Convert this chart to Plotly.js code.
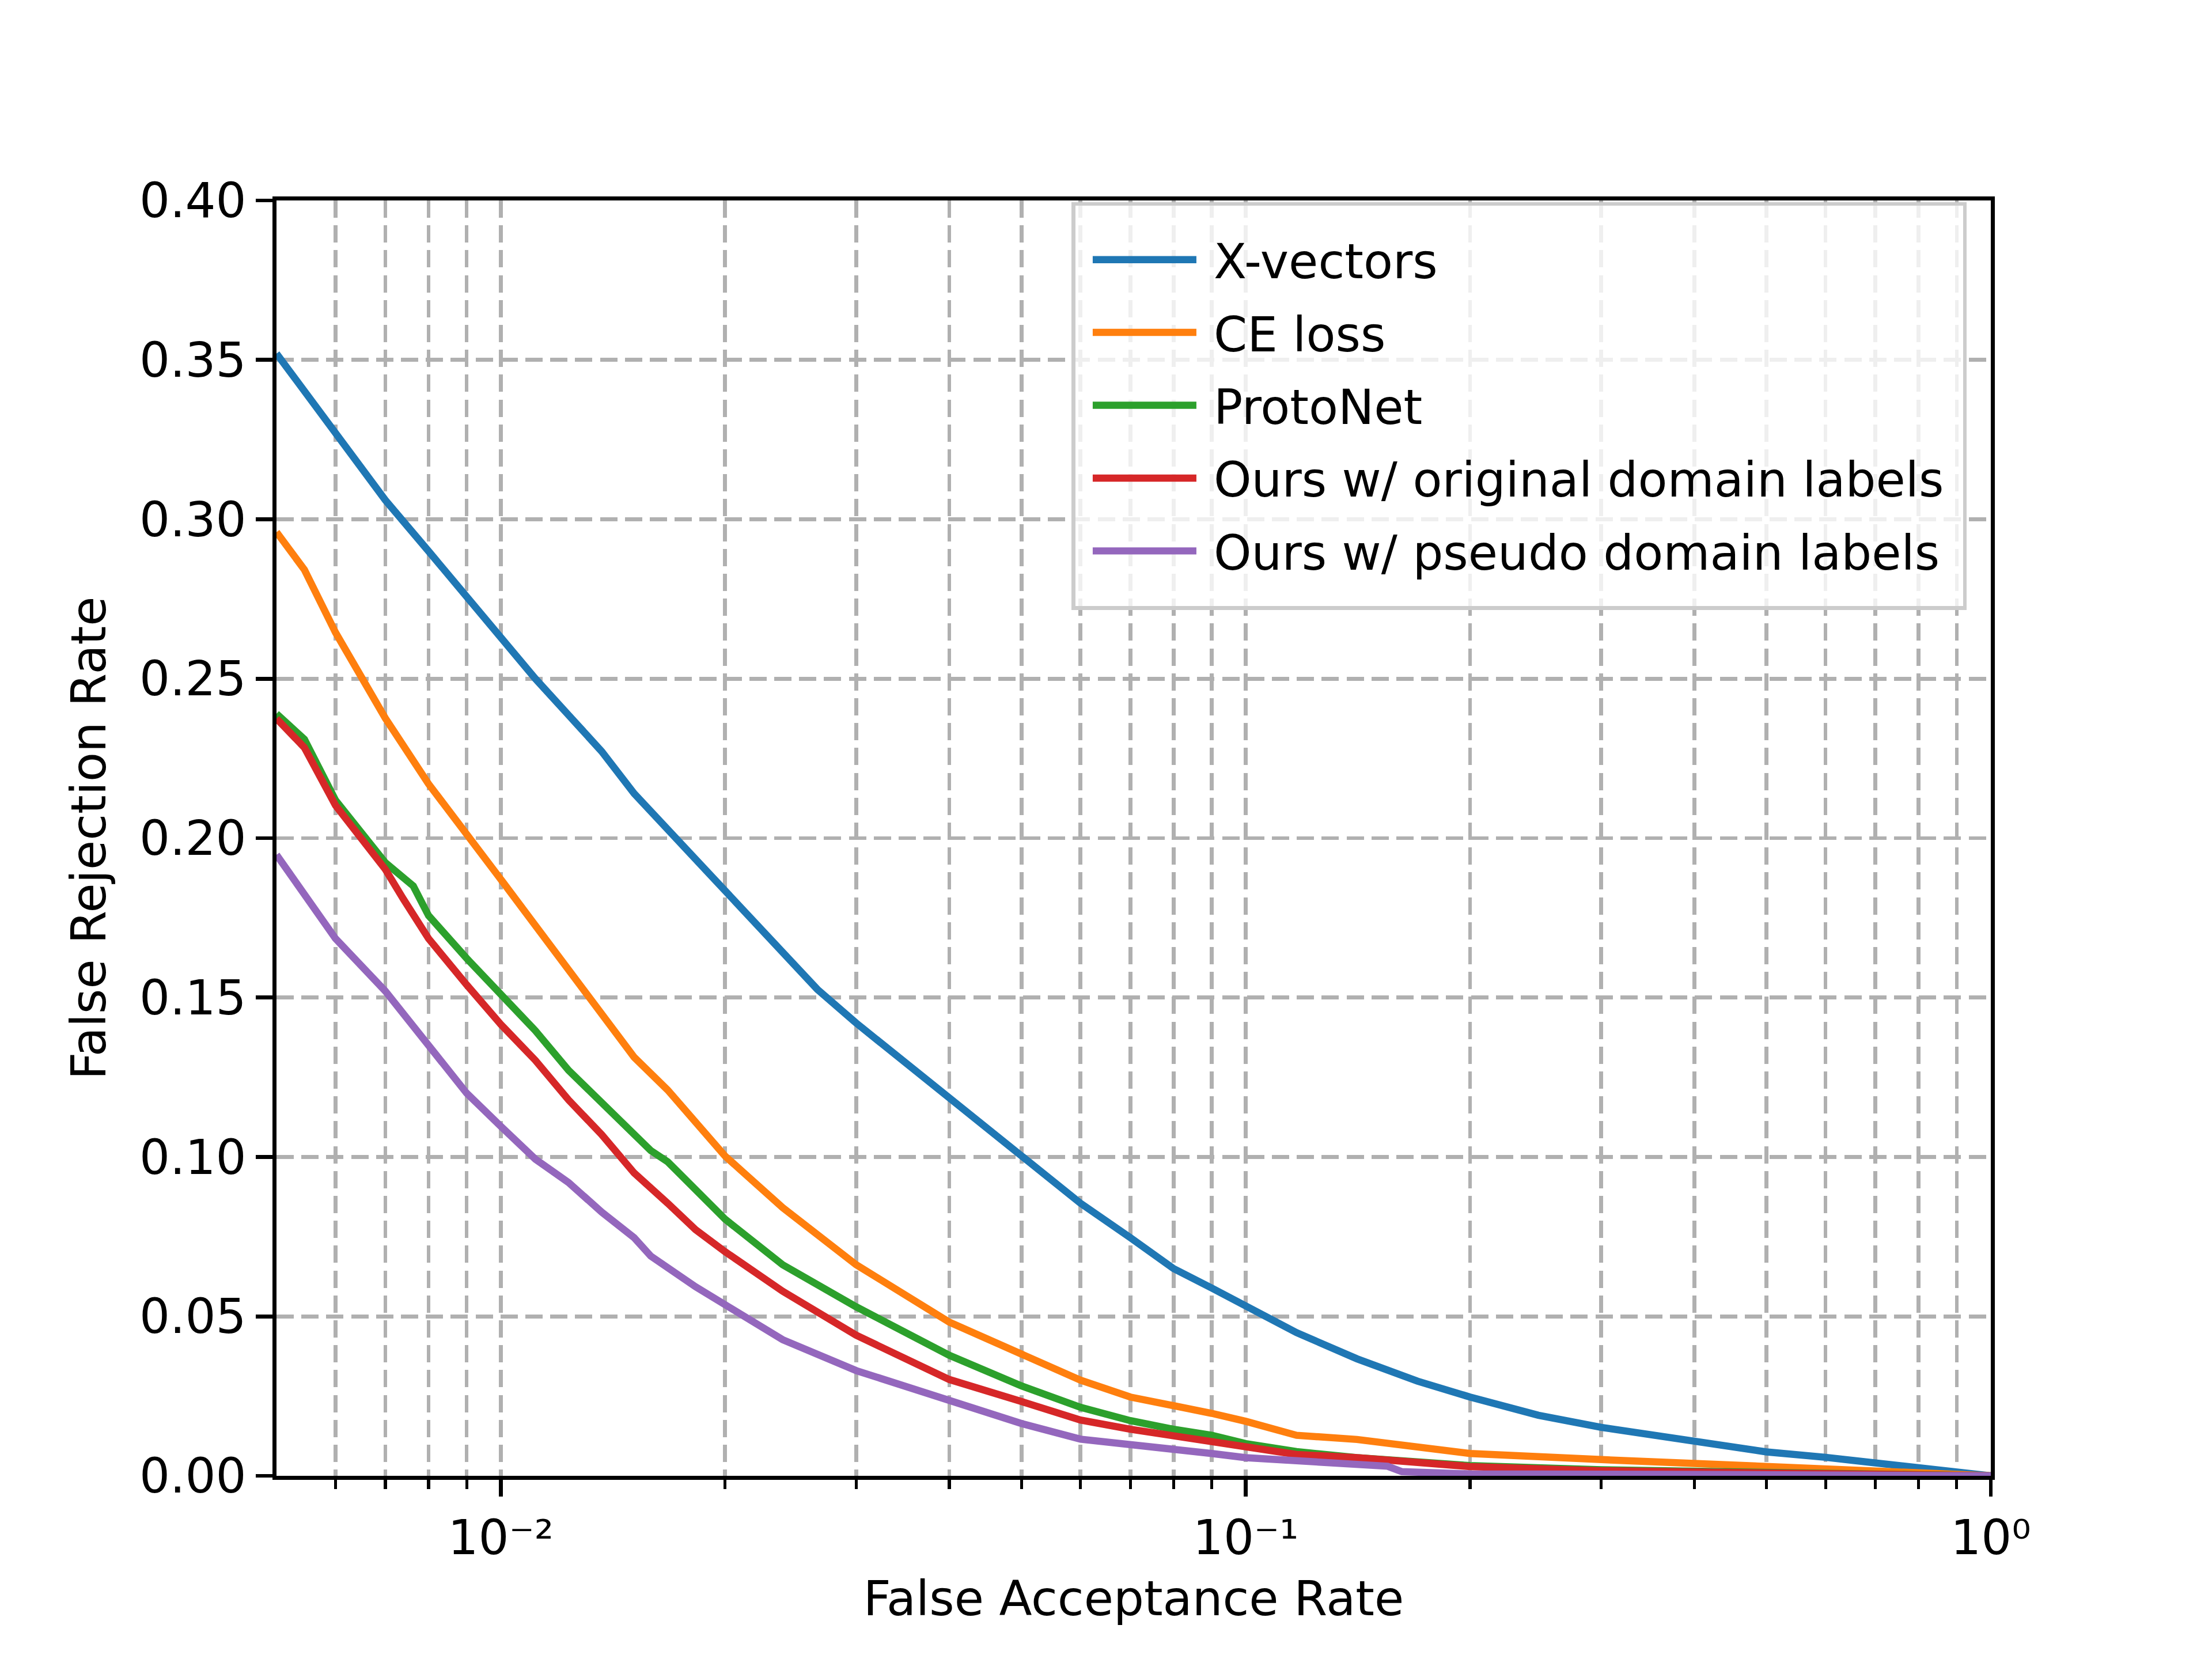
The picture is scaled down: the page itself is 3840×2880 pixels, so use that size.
<!DOCTYPE html>
<html>
<head>
<meta charset="utf-8">
<script src="https://cdn.plot.ly/plotly-3.0.1.min.js"></script>
<style>
  html, body { margin: 0; padding: 0; background: #ffffff; overflow: hidden; }
  #wrap { width: 3840px; height: 2880px; overflow: hidden; }
  #plot { width: 640px; height: 480px; transform: scale(6); transform-origin: 0 0; }
</style>
</head>
<body>
<div id="wrap"><div id="plot"></div></div>
<script>
// ---- data ----
const seriesNames = ['X-vectors', 'CE loss', 'ProtoNet', 'Ours w/ original domain labels', 'Ours w/ pseudo domain labels'];
const seriesColors = ['#1f77b4', '#ff7f0e', '#2ca02c', '#d62728', '#9467bd'];

const farXvec = [0.005,0.00545,0.006,0.007,0.008,0.009,0.01,0.01113,0.01233,0.01366,0.0151,0.01675,0.02,0.0232,0.0266,0.03,0.04,0.05,0.06,0.07,0.08,0.09,0.1,0.117,0.141,0.17,0.2,0.247,0.3,0.4,0.443,0.5,0.6,0.7,0.8,0.9,1.0];
const frrXvec = [0.352,0.340,0.3266,0.306,0.290,0.2754,0.2624,0.250,0.2386,0.2272,0.214,0.2026,0.1836,0.1665,0.1526,0.142,0.1186,0.100,0.0855,0.0747,0.065,0.0589,0.0532,0.0449,0.0367,0.0297,0.0247,0.019,0.0152,0.0105,0.0095,0.0075,0.0058,0.004,0.0031,0.0012,0.0];

const farCE = [0.005,0.00545,0.006,0.007,0.008,0.009,0.01,0.01113,0.01233,0.01366,0.0151,0.01675,0.0185,0.02,0.0239,0.03,0.04,0.05,0.06,0.07,0.08,0.09,0.1,0.117,0.141,0.17,0.2,0.3,0.4,0.5,0.7,1.0];
const frrCE = [0.296,0.2842,0.2645,0.2376,0.217,0.2005,0.1871,0.1726,0.1585,0.1455,0.1313,0.121,0.1096,0.1003,0.0841,0.0662,0.0482,0.0378,0.0300,0.0247,0.0222,0.0196,0.0171,0.0127,0.0114,0.0089,0.007,0.0051,0.0038,0.0025,0.0014,0.0];

const farProto = [0.005,0.00545,0.006,0.007,0.00763,0.008,0.009,0.01,0.01113,0.01233,0.01366,0.0151,0.0159,0.01675,0.0185,0.02,0.0239,0.03,0.04,0.05,0.06,0.07,0.08,0.09,0.1,0.117,0.141,0.17,0.2,0.3,0.443,1.0];
const frrProto = [0.239,0.231,0.2119,0.1923,0.185,0.1757,0.1623,0.151,0.1396,0.1272,0.117,0.107,0.102,0.0985,0.0885,0.0805,0.0662,0.053,0.0378,0.0282,0.0215,0.0173,0.0146,0.0127,0.0101,0.0076,0.0057,0.0047,0.0032,0.0019,0.0013,0.0];

const farOrig = [0.005,0.00545,0.006,0.00648,0.007,0.0074,0.008,0.009,0.01,0.01113,0.01233,0.01366,0.0151,0.01675,0.01826,0.02,0.0239,0.03,0.04,0.05,0.06,0.07,0.08,0.09,0.1,0.117,0.141,0.17,0.2,0.3,0.443,1.0];
const frrOrig = [0.2375,0.2284,0.2103,0.2005,0.1902,0.1809,0.1685,0.154,0.1416,0.1303,0.1179,0.107,0.095,0.0855,0.0772,0.0703,0.0579,0.0441,0.0302,0.0233,0.0175,0.0146,0.0127,0.011,0.0089,0.0067,0.0057,0.0042,0.0029,0.0016,0.001,0.0];

const farPseudo = [0.005,0.00545,0.006,0.007,0.008,0.009,0.01,0.01113,0.01233,0.01366,0.0151,0.0159,0.01826,0.02,0.0239,0.03,0.04,0.05,0.06,0.07,0.08,0.09,0.1,0.117,0.141,0.155,0.162,0.2,0.443,1.0];
const frrPseudo = [0.1948,0.183,0.1685,0.152,0.1344,0.12,0.1096,0.0993,0.092,0.0827,0.0747,0.0689,0.0593,0.0537,0.0427,0.033,0.0233,0.0164,0.0115,0.0095,0.0082,0.007,0.0057,0.0047,0.0038,0.003,0.0013,0.0006,0.0004,0.0];

const xTickVals = [0.01, 0.1, 1];
const xTickText = ['10\u207B\u00B2', '10\u207B\u00B9', '10\u2070'];
const xMinorVals = [0.006,0.007,0.008,0.009,0.02,0.03,0.04,0.05,0.06,0.07,0.08,0.09,0.2,0.3,0.4,0.5,0.6,0.7,0.8,0.9];
const yTickVals = [0, 0.05, 0.10, 0.15, 0.20, 0.25, 0.30, 0.35, 0.40];
const xTitle = 'False Acceptance Rate';
const yTitle = 'False Rejection Rate';

// ---- figure (640x480 canvas = 6.4x4.8 in at 100 dpi, scaled 6x by CSS) ----
const xs = [farXvec, farCE, farProto, farOrig, farPseudo];
const ys = [frrXvec, frrCE, frrProto, frrOrig, frrPseudo];
const FONT = 'DejaVu Sans';
const FS = 13.9;

const traces = seriesNames.map((n, i) => ({
  type: 'scatter', mode: 'lines', name: n,
  x: xs[i], y: ys[i],
  line: { color: seriesColors[i], width: 2.08 }
}));

const gridDash = '5px,2.2px';
const layout = {
  width: 640, height: 480,
  margin: { l: 80, r: 64, t: 57.6, b: 52.8, pad: 0 },
  paper_bgcolor: '#ffffff', plot_bgcolor: '#ffffff',
  font: { family: FONT, size: FS, color: '#000000' },
  showlegend: true,
  legend: {
    x: 0.986, y: 0.9987, xanchor: 'right', yanchor: 'top',
    bgcolor: 'rgba(255,255,255,0.8)', bordercolor: '#cccccc', borderwidth: 1.1,
    font: { family: FONT, size: FS, color: '#000000' },
    traceorder: 'normal'
  },
  xaxis: {
    type: 'log', range: [Math.log10(0.005), 0],
    tickmode: 'array', tickvals: xTickVals, ticktext: xTickText,
    ticks: 'outside', ticklen: 4.86, tickwidth: 1.1, tickcolor: '#000000',
    showline: true, linecolor: '#000000', linewidth: 1.1, mirror: true,
    showgrid: true, gridcolor: '#b0b0b0', gridwidth: 1.1, griddash: gridDash,
    zeroline: false,
    tickfont: { family: FONT, size: FS, color: '#000000' },
    minor: {
      tickmode: 'array', tickvals: xMinorVals,
      ticks: 'outside', ticklen: 2.78, tickwidth: 0.85, tickcolor: '#000000',
      showgrid: true, gridcolor: '#b0b0b0', gridwidth: 1.1, griddash: gridDash
    },
    title: { text: xTitle, font: { family: FONT, size: FS, color: '#000000' }, standoff: 5.5 }
  },
  yaxis: {
    range: [0, 0.4],
    tickmode: 'array', tickvals: yTickVals, tickformat: '.2f',
    ticks: 'outside', ticklen: 4.86, tickwidth: 1.1, tickcolor: '#000000',
    showline: true, linecolor: '#000000', linewidth: 1.1, mirror: true,
    showgrid: true, gridcolor: '#b0b0b0', gridwidth: 1.1, griddash: gridDash,
    zeroline: false,
    tickfont: { family: FONT, size: FS, color: '#000000' },
    title: { text: yTitle, font: { family: FONT, size: FS, color: '#000000' }, standoff: 5.5 }
  }
};

Plotly.newPlot('plot', traces, layout, { displayModeBar: false, staticPlot: true });
</script>
</body>
</html>
